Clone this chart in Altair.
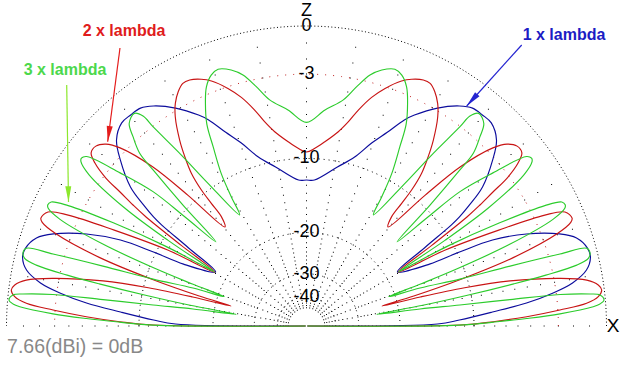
import math
import altair as alt
import pandas as pd

# ---------------- data (right half, elevation angle in degrees, gain in dB) ----------------
blue_phi = [0, 0.87, 2.25, 4.3, 5.97, 7.6, 9.2, 11.3, 13.7, 15.5, 18.05, 20.0, 22.7, 24.8, 25.8,
            26.7, 30.7, 33.5, 34.9, 35.5, 36.6, 38.3, 41.7, 44.4, 47.7, 50.2, 52.7, 55.2, 59.0,
            62.9, 64.6, 67.3, 70.4, 74.1, 79.0, 86.9, 90]
blue_db = [-100, -14.22, -11.55, -8.16, -5.23, -3.25, -1.84, -0.85, -0.45, -0.49, -0.94, -1.86,
           -3.94, -6.54, -9.75, -13.37, -17.9, -12.91, -9.08, -8.03, -6.70, -4.99, -3.18, -2.07,
           -1.52, -1.51, -1.56, -1.94, -2.84, -4.05, -4.70, -6.10, -7.46, -9.18, -10.58, -12.34,
           -12.36]

red_phi = [0, 0.37, 1.32, 2.42, 3.61, 4.63, 5.73, 6.95, 8.0, 9.3, 10.65, 12.5, 13.6, 14.3, 14.8,
           15.6, 16.8, 18.3, 20.2, 21.4, 22.1, 23.8, 24.95, 26.5, 28.7, 30.5, 32.8, 34.2, 34.9,
           35.7, 36.4, 37.6, 38.8, 40.5, 42.2, 43.7, 46.0, 47.8, 50.5, 52.1, 52.2, 52.3, 53.0,
           54.3, 55.7, 57.9, 59.5, 61.3, 63.0, 64.6, 66.9, 68.8, 71.7, 74.1, 76.5, 78.4, 80.7,
           84.3, 87.3, 90]
red_db = [-100, -11.5, -8.13, -5.29, -2.86, -1.12, -0.39, -0.15, -0.31, -0.94, -2.59, -6.25,
          -10.5, -16.1, -23.1, -17.0, -10.7, -5.5, -2.0, -0.95, -0.78, -1.03, -2.27, -5.73,
          -10.98, -17.8, -11.97, -7.48, -6.00, -4.59, -3.18, -2.00, -1.41, -1.37, -1.76, -2.60,
          -5.24, -9.12, -14.59, -13.25, -11.30, -9.56, -7.72, -6.24, -4.93, -3.34, -2.56, -1.99,
          -1.66, -1.66, -1.92, -2.27, -3.11, -3.99, -5.16, -6.24, -7.23, -8.28, -8.97, -9.35]

green_phi = [0, 0.3, 1.2, 1.95, 2.75, 3.85, 4.29, 4.99, 6.03, 6.44, 7.08, 7.4, 7.8, 8.5, 9.46,
             10.1, 10.8, 11.5, 12.0, 12.7, 13.5, 14.4, 15.5, 15.86, 16.4, 17.0, 18.5, 19.6,
             20.2, 20.8, 21.9, 23.4, 24.5, 25.1, 25.9, 26.8, 28.1, 29.5, 30.1, 30.5, 31.0,
             31.74, 32.98, 34.84, 36.08, 36.7, 37.6, 39.4, 41.2, 41.9, 42.9, 44.4, 45.5, 46.0,
             47.5, 48.8, 51.0, 52.1, 52.4, 53.8, 55.4, 58.96, 59.8, 60.8, 62.5, 63.7, 65.6,
             67.3, 69.2, 71.0, 73.6, 75.8, 78.15, 80.75, 85.1, 90]
green_db = [-100, -11.5, -8.1, -5.3, -2.87, -0.74, -0.33, -0.08, -0.28, -0.86, -2.76, -6.52,
            -11.35, -16.49, -24.7, -16.0, -10.5, -6.0, -3.5, -1.37, -0.59, -0.42, -0.53, -2.23,
            -5.94, -10.74, -15.77, -21.2, -15.5, -10.6, -5.4, -1.9, -0.95, -0.84, -0.95, -2.0,
            -5.4, -10.5, -15.0, -17.8, -15.4, -10.5, -5.58, -2.12, -1.24, -1.14, -1.32, -3.74,
            -6.62, -10.45, -15.2, -9.46, -5.41, -3.82, -2.67, -1.86, -1.58, -2.06, -3.02, -5.97,
            -9.41, -14.4, -11.94, -9.26, -6.77, -4.95, -3.50, -2.50, -1.91, -1.71, -2.01, -2.53,
            -3.51, -4.63, -5.57, -6.65]

series_names = ["1 x lambda", "2 x lambda", "3 x lambda"]
series_colors = ["#0c0c9c", "#c81414", "#2ccc2c"]

ring_db = [0, -3, -10, -20, -30, -40]
ring_labels = ["0", "-3", "-10", "-20", "-30", "-40"]
radial_angles = list(range(0, 181, 10))
radial_db = list(range(-1, -30, -1)) + list(range(-30, -50, -2))

ann_text = ["2 x lambda", "3 x lambda", "1 x lambda"]
ann_text_x = [-0.6083, -0.805, 0.8583]
ann_text_y = [0.9833, 0.8533, 0.97]
ann_text_color = ["#e01c1c", "#4cd84c", "#1c1cc4"]
arrow_x0 = [-0.6217, -0.7993, 0.7173]
arrow_y0 = [0.9267, 0.8033, 0.9367]
arrow_x1 = [-0.6627, -0.7933, 0.534]
arrow_y1 = [0.6143, 0.4133, 0.7333]
arrow_color = ["#e41c1c", "#8ce82c", "#2424d0"]

note_text = "7.66(dBi) = 0dB"


# ---------------- helpers ----------------
def rnorm(db):
    # ARRL log scale: 2 dB per 0.89 factor
    return 0.89 ** (-db / 2.0)


def polar(phi, db):
    r = rnorm(db)
    a = math.radians(phi)
    return r * math.cos(a), r * math.sin(a)


rows = []
for name, phis, dbs in zip(series_names, [blue_phi, red_phi, green_phi],
                           [blue_db, red_db, green_db]):
    full = list(zip(phis, dbs))
    left = [(180 - p, d) for p, d in reversed(full) if p < 90]
    k = 0
    for p, d in full + left:
        x, y = polar(p, d)
        rows.append({"series": name, "k": k, "x": x, "y": y})
        k += 1
curves = pd.DataFrame(rows)

ring_rows = []
for i, d in enumerate(ring_db):
    for a in range(0, 181):
        x, y = polar(a, d)
        ring_rows.append({"ring": d, "k": a, "x": x, "y": y})
rings = pd.DataFrame(ring_rows)

dot_rows = []
for a in radial_angles:
    for d in radial_db:
        x, y = polar(a, d)
        dot_rows.append({"x": x, "y": y})
dots = pd.DataFrame(dot_rows)

labels = pd.DataFrame({"t": ring_labels, "x": [0.0] * len(ring_db),
                       "y": [rnorm(d) for d in ring_db],
                       "dx": [0 if d == 0 else -4.5 for d in ring_db],
                       "dy": [3 if d == 0 else 1 for d in ring_db]})

ann = pd.DataFrame({"t": ann_text, "x": ann_text_x, "y": ann_text_y, "c": ann_text_color})
arr = pd.DataFrame({"x0": arrow_x0, "y0": arrow_y0, "x1": arrow_x1, "y1": arrow_y1,
                    "c": arrow_color})
arr["ang"] = [(math.degrees(math.atan2(-(x1 - x0), -(y1 - y0))) + 360) % 360
              for x0, y0, x1, y1 in zip(arrow_x0, arrow_y0, arrow_x1, arrow_y1)]

axis_txt = pd.DataFrame({"t": ["Z", "X"], "x": [0.0, 1.0217], "y": [1.05, 0.0],
                         "s": [18, 19]})
note = pd.DataFrame({"t": [note_text], "x": [-0.998], "y": [-0.09]})

# ---------------- scales ----------------
xs = alt.Scale(domain=[-306.5 / 300, 317.5 / 300], nice=False, zero=False)
ys = alt.Scale(domain=[-52 / 300, 326 / 300], nice=False, zero=False)
X = lambda f="x": alt.X(f"{f}:Q", scale=xs, axis=None)
Y = lambda f="y": alt.Y(f"{f}:Q", scale=ys, axis=None)
FONT = "Liberation Sans"

outer = alt.Chart(rings[rings.ring == 0]).mark_line(
    color="black", strokeWidth=1, strokeDash=[1, 2.4]).encode(x=X(), y=Y(), order="k:Q")
red_ring = alt.Chart(rings[rings.ring == -3]).mark_line(
    color="#c02020", strokeWidth=1, strokeDash=[1, 7]).encode(x=X(), y=Y(), order="k:Q")
inner = alt.Chart(rings[rings.ring < -3]).mark_line(
    color="black", strokeWidth=1, strokeDash=[1, 4]).encode(
    x=X(), y=Y(), order="k:Q", detail="ring:N")
dot_layer = alt.Chart(dots).mark_square(size=1.0, color="black", opacity=1).encode(x=X(), y=Y())

curve_layer = alt.Chart(curves).mark_line(strokeWidth=1.15, interpolate="catmull-rom").encode(
    x=X(), y=Y(), order="k:Q",
    color=alt.Color("series:N", scale=alt.Scale(domain=series_names, range=series_colors),
                    legend=None))

label_layer = alt.Chart(labels).mark_text(
    font=FONT, fontSize=18, color="black", baseline="middle", align="center").encode(
    x=X(), y=Y(), text="t:N", xOffset=alt.XOffset("dx:Q", scale=None),
    yOffset=alt.YOffset("dy:Q", scale=None))

axis_layer = alt.Chart(axis_txt).mark_text(
    font=FONT, color="black", baseline="middle", align="center").encode(
    x=X(), y=Y(), text="t:N", size=alt.Size("s:Q", scale=None))

note_layer = alt.Chart(note).mark_text(
    font=FONT, fontSize=19.5, color="#888888", baseline="alphabetic", align="left").encode(
    x=X(), y=Y(), text="t:N")

ann_layer = alt.Chart(ann).mark_text(
    font=FONT, fontSize=16, fontWeight="bold", baseline="middle", align="center").encode(
    x=X(), y=Y(), text="t:N", color=alt.Color("c:N", scale=None))

arrow_lines = alt.Chart(arr).mark_rule(strokeWidth=1.2).encode(
    x=X("x0"), y=Y("y0"), x2="x1:Q", y2="y1:Q", color=alt.Color("c:N", scale=None))

arrow_heads = alt.Chart(arr).mark_point(
    shape="M0,0L-0.19,-1L0.19,-1Z", filled=True, size=1000, opacity=1).encode(
    x=X("x1"), y=Y("y1"), angle=alt.Angle("ang:Q", scale=None),
    color=alt.Color("c:N", scale=None))

chart = alt.layer(
    dot_layer, outer, red_ring, inner, curve_layer, label_layer, axis_layer, note_layer,
    ann_layer, arrow_lines, arrow_heads
).properties(
    width=624, height=378, padding=0,
    autosize=alt.AutoSizeParams(type="none"),
    background="white"
).configure_view(stroke=None)

chart.save("out.html", embed_options={"renderer": "svg", "actions": False})
